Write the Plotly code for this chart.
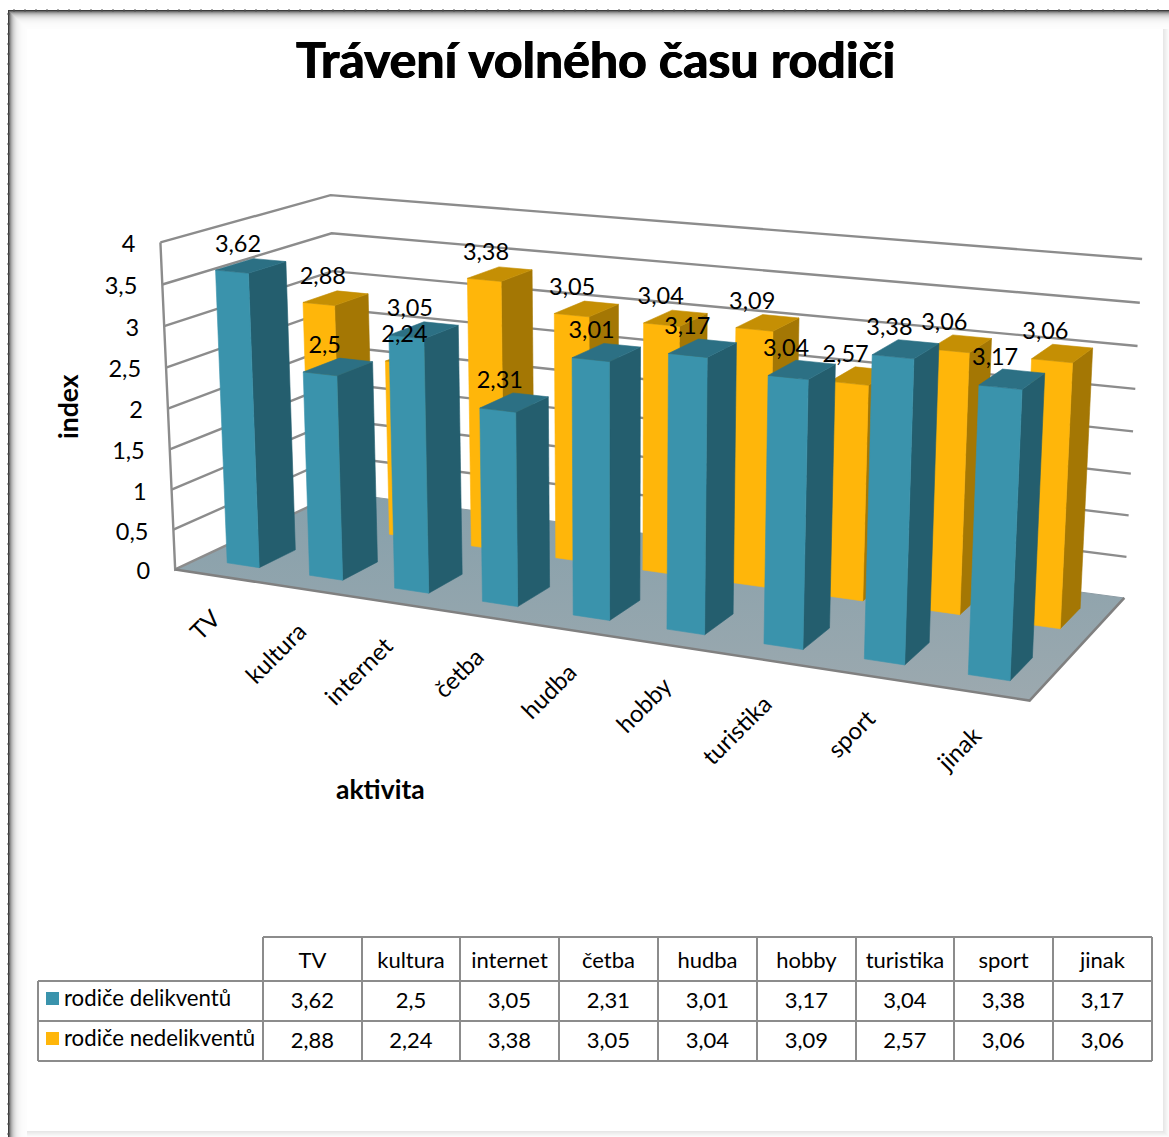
import numpy as np
import plotly.graph_objects as go

title = "Trávení volného času rodiči"
categories = ["TV", "kultura", "internet", "četba", "hudba", "hobby", "turistika", "sport", "jinak"]
series_names = ["rodiče delikventů", "rodiče nedelikventů"]
delikventi = [3.62, 2.5, 3.05, 2.31, 3.01, 3.17, 3.04, 3.38, 3.17]
nedelikventi = [2.88, 2.24, 3.38, 3.05, 3.04, 3.09, 2.57, 3.06, 3.06]
z_ticks = [0, 0.5, 1, 1.5, 2, 2.5, 3, 3.5, 4]

W, H = 1169, 1137
FONT = "Lato"
GRID = "#8c8c8c"
TEAL = dict(front="#3a93ac", side="#245e6e", top="#2c7084")
GOLD = dict(front="#ffb60a", side="#a47704", top="#c58f04")

# camera calibration: 3D box corners (x, depth, value) -> screen position
calib = [
    ((0, 0, 0), (176, 570)), ((0, 0, 2), (168, 409)), ((0, 0, 4), (160, 241)),
    ((0, 1, 0), (338, 492)), ((0, 1, 4), (331, 196)),
    ((1, 1, 0), (1125, 597)), ((1, 1, 2), (1133, 432)), ((1, 1, 4), (1142, 259)),
    ((1, 0, 0), (1029, 701)),
]
A, b = [], []
for (x, y, z), (u, v) in calib:
    A.append([x, y, z, 1, 0, 0, 0, 0, -u * x, -u * y, -u * z]); b.append(u)
    A.append([0, 0, 0, 0, x, y, z, 1, -v * x, -v * y, -v * z]); b.append(v)
p = np.linalg.lstsq(np.array(A, float), np.array(b, float), rcond=None)[0]
P = np.append(p, 1).reshape(3, 4)


def proj(x, y, z):
    q = P @ np.array([x, y, z, 1.0])
    return q[0] / q[2], q[1] / q[2]


def poly(points, color, **kw):
    xy = [proj(*pt) for pt in points]
    xs = [a for a, _ in xy] + [xy[0][0]]
    ys = [a for _, a in xy] + [xy[0][1]]
    return go.Scatter(x=xs, y=ys, mode="lines", fill="toself", fillcolor=color,
                      line=dict(color=color, width=0.6), hoverinfo="skip", showlegend=False, **kw)


def path(points, color=GRID, width=2.4):
    xy = [proj(*pt) for pt in points]
    return go.Scatter(x=[a for a, _ in xy], y=[a for _, a in xy], mode="lines",
                      line=dict(color=color, width=width), hoverinfo="skip", showlegend=False)


fig = go.Figure()

# page frame shadow: pale right and bottom edges first, dark top and left on top of them
shapes = []
for k in range(6):
    g = 255 - (6 - k) * 4
    c = f"rgb({g},{g},{g})"
    shapes.append(dict(type="rect", x0=8, x1=1169, y0=1131 + k, y1=1132 + k, fillcolor=c, line_width=0, layer="below"))
    shapes.append(dict(type="rect", x0=1163 + k, x1=1164 + k, y0=10, y1=1137, fillcolor=c, line_width=0, layer="below"))
for k in range(18, -1, -1):
    g = int(60 + 195 * (1 - np.exp(-k / 3.5)))
    c = f"rgb({g},{g},{g})"
    shapes.append(dict(type="rect", x0=8 + k, x1=9 + k, y0=10 + k, y1=1137, fillcolor=c, line_width=0, layer="below"))
    shapes.append(dict(type="rect", x0=8 + k, x1=1169, y0=10 + k, y1=11 + k, fillcolor=c, line_width=0, layer="below"))
# small dashes along the frame's outer edge
dash_path = "".join(f"M7,{y} L10,{y} " for y in range(14, H, 10)) + "".join(f"M{x},9 L{x},12 " for x in range(14, W, 11))
shapes.append(dict(type="path", path=dash_path, line=dict(color="#555555", width=1), layer="below"))

# floor
fxy = [proj(*c) for c in [(0, 0, 0), (1, 0, 0), (1, 1, 0), (0, 1, 0), (0, 0, 0)]]
fig.add_trace(go.Scatter(x=[a for a, _ in fxy], y=[a for _, a in fxy], mode="lines", fill="toself",
                         fillgradient=dict(type="vertical", colorscale=[[0, "#9ca9af"], [1, "#86a0ab"]]),
                         line=dict(width=0), hoverinfo="skip", showlegend=False))

# walls grid
for t in z_ticks[1:]:
    fig.add_trace(path([(0, 0, t), (0, 1, t), (1, 1, t)]))
fig.add_trace(path([(0, 1, 0), (1, 1, 0)], color="#8c9ca4", width=1))
fig.add_trace(path([(0, 1, 0), (0, 0, 0), (0, 0, 4)]))
fig.add_trace(path([(0, 0, 0), (1, 0, 0), (1, 1, 0)], color="#808080", width=2.6))

# bars
BAR_W = 0.39
rows = [(nedelikventi, GOLD, 0.63, 0.845), (delikventi, TEAL, 0.13, 0.345)]
label_x, label_y, label_t = [], [], []
for vals, pal, y0, y1 in rows:
    for i, v in enumerate(vals):
        centre = i + 0.5 + 0.05 * (1 - i / 8)
        x0 = (centre - BAR_W / 2) / 9
        x1 = (centre + BAR_W / 2) / 9
        fig.add_trace(poly([(x1, y0, 0), (x1, y1, 0), (x1, y1, v), (x1, y0, v)], pal["side"]))
        fig.add_trace(poly([(x0, y0, 0), (x1, y0, 0), (x1, y0, v), (x0, y0, v)], pal["front"]))
        fig.add_trace(poly([(x0, y0, v), (x1, y0, v), (x1, y1, v), (x0, y1, v)], pal["top"]))
        cx, cy = proj((x0 + x1) / 2, (y0 + y1) / 2, v)
        label_x.append(cx - 13 - 4 * i / 8)
        label_y.append(cy - 20)
        label_t.append(f"{v:g}".replace(".", ","))
fig.add_trace(go.Scatter(x=label_x, y=label_y, text=label_t, mode="text", textposition="middle center",
                         textfont=dict(family=FONT, size=23.5, color="black"), hoverinfo="skip", showlegend=False))

# value axis labels
tx, ty = [], []
for t in z_ticks:
    a, c = proj(0, 0, t)
    tx.append(a - 25)
    ty.append(c + 4)
fig.add_trace(go.Scatter(x=tx, y=ty, text=[f"{t:g}".replace(".", ",") for t in z_ticks], mode="text",
                         textposition="middle left", textfont=dict(family=FONT, size=23.5, color="black"),
                         hoverinfo="skip", showlegend=False))

annotations = []
cat_centres = [(204, 624), (275, 652), (358, 670), (458, 672), (548, 690), (643, 704), (736, 729), (850, 733), (958, 748)]
for c, (a, d) in zip(categories, cat_centres):
    annotations.append(dict(x=a, y=d, text=c, textangle=-45, showarrow=False, xref="x", yref="y",
                            font=dict(family=FONT, size=24, color="black")))
annotations.append(dict(x=595, y=59, text=f"<b>{title}</b>", showarrow=False, xref="x", yref="y",
                        font=dict(family=FONT, size=50, color="black",
                                  shadow="0.6px 0 0 black, -0.6px 0 0 black")))
annotations.append(dict(x=68, y=407, text="<b>index</b>", textangle=-90, showarrow=False, xref="x", yref="y",
                        font=dict(family=FONT, size=26.5, color="black")))
annotations.append(dict(x=380, y=789, text="<b>aktivita</b>", showarrow=False, xref="x", yref="y",
                        font=dict(family=FONT, size=26.5, color="black")))

# data table
col_edges = [263, 362, 460, 559, 658, 757, 856, 954, 1053, 1152]
row_edges = [937, 981, 1021, 1061]
for e in col_edges:
    shapes.append(dict(type="line", x0=e, x1=e, y0=row_edges[0], y1=row_edges[3], line=dict(color=GRID, width=2)))
shapes.append(dict(type="line", x0=38, x1=38, y0=row_edges[1], y1=row_edges[3], line=dict(color=GRID, width=2)))
shapes.append(dict(type="line", x0=263, x1=1152, y0=row_edges[0], y1=row_edges[0], line=dict(color=GRID, width=2)))
for r in row_edges[1:]:
    shapes.append(dict(type="line", x0=38, x1=1152, y0=r, y1=r, line=dict(color=GRID, width=2)))
for k, c in enumerate([TEAL["front"], GOLD["front"]]):
    shapes.append(dict(type="rect", x0=46, x1=59, y0=992 + 40 * k, y1=1005 + 40 * k, fillcolor=c, line_width=0))

cxs = [(a + b_) / 2 for a, b_ in zip(col_edges[:-1], col_edges[1:])]
fig.add_trace(go.Scatter(x=cxs, y=[962] * 9, text=categories, mode="text", textposition="middle center",
                         textfont=dict(family=FONT, size=22, color="black"), hoverinfo="skip", showlegend=False))
for rowy, vals in zip([1002, 1042], [delikventi, nedelikventi]):
    fig.add_trace(go.Scatter(x=cxs, y=[rowy] * 9, text=[f"{v:g}".replace(".", ",") for v in vals], mode="text",
                             textposition="middle center", textfont=dict(family=FONT, size=22, color="black"),
                             hoverinfo="skip", showlegend=False))
fig.add_trace(go.Scatter(x=[64, 64], y=[1000, 1040], text=series_names, mode="text", textposition="middle right",
                         textfont=dict(family=FONT, size=22.2, color="black"), hoverinfo="skip", showlegend=False))

fig.update_layout(
    width=W, height=H, margin=dict(l=0, r=0, t=0, b=0), autosize=False,
    paper_bgcolor="white", plot_bgcolor="white", showlegend=False,
    xaxis=dict(range=[0, W], visible=False, fixedrange=True),
    yaxis=dict(range=[H, 0], visible=False, fixedrange=True),
    shapes=shapes, annotations=annotations,
)
fig.write_html("out.html", config=dict(displayModeBar=False),
               post_script="document.body.style.margin='0';document.body.style.overflow='hidden';")
